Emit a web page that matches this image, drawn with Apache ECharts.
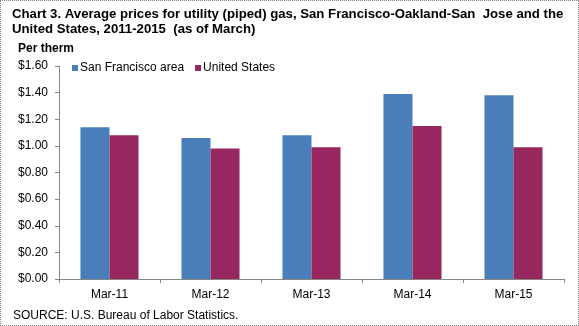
<!DOCTYPE html>
<html>
<head>
<meta charset="utf-8">
<script src="https://cdn.jsdelivr.net/npm/echarts@6/dist/echarts.min.js"></script>
<style>
  html, body { margin: 0; padding: 0; background: #fff; }
  #wrap { width: 579px; height: 326px; position: relative; }
  #chart { width: 579px; height: 326px; }
  #frame { position: absolute; left: 0; top: 0; width: 577px; height: 324px; border: 1px dotted #808080; pointer-events: none; }
</style>
</head>
<body>
<div id="wrap"><div id="chart"></div><div id="frame"></div></div>
<script>
// Average price per therm of utility (piped) gas, March of each year
const categories = ['Mar-11', 'Mar-12', 'Mar-13', 'Mar-14', 'Mar-15'];
const sanFrancisco = [1.14, 1.06, 1.08, 1.39, 1.38];
const unitedStates = [1.08, 0.98, 0.99, 1.15, 0.99];
const seriesNames = ['San Francisco area', 'United States'];

const FONT = '"Liberation Sans", Arial, sans-serif';
const chart = echarts.init(document.getElementById('chart'), null, { renderer: 'canvas' });

chart.setOption({
  animation: false,
  textStyle: { fontFamily: FONT },
  title: [
    {
      text: 'Chart 3. Average prices for utility (piped) gas, San Francisco-Oakland-San  Jose and the\nUnited States, 2011-2015  (as of March)',
      left: 12, top: 7, padding: 0,
      textStyle: { fontFamily: FONT, fontSize: 13.2, fontWeight: 'bold', color: '#000', lineHeight: 15 }
    },
    {
      text: 'Per therm',
      left: 18, top: 43, padding: 0,
      textStyle: { fontFamily: FONT, fontSize: 12, fontWeight: 'bold', color: '#000' }
    },
    {
      text: 'SOURCE: U.S. Bureau of Labor Statistics.',
      left: 13, top: 310, padding: 0,
      textStyle: { fontFamily: FONT, fontSize: 12, fontWeight: 'normal', color: '#000' }
    }
  ],
  legend: {
    data: seriesNames,
    left: 72, top: 62, padding: 0,
    icon: 'rect', itemWidth: 6, itemHeight: 6, itemGap: 11,
    textStyle: { fontFamily: FONT, fontSize: 12, color: '#000', padding: [0, 0, 0, -3] }
  },
  grid: { left: 59, right: 15, top: 66, bottom: 47, containLabel: false },
  xAxis: {
    type: 'category',
    data: categories,
    axisLine: { lineStyle: { color: '#868686', width: 1 } },
    axisTick: { show: true, alignWithLabel: false, length: 4, lineStyle: { color: '#868686' } },
    axisLabel: { fontFamily: FONT, fontSize: 12, color: '#000', margin: 10 }
  },
  yAxis: {
    type: 'value',
    min: 0, max: 1.6, interval: 0.2,
    axisLine: { show: true, lineStyle: { color: '#868686', width: 1 } },
    axisTick: { show: true, length: 4, lineStyle: { color: '#868686' } },
    splitLine: { show: false },
    axisLabel: {
      fontFamily: FONT, fontSize: 12, color: '#000', margin: 11,
      formatter: v => '$' + v.toFixed(2)
    }
  },
  series: [
    {
      name: seriesNames[0], type: 'bar', data: sanFrancisco,
      barGap: '0%', barCategoryGap: '42.5%',
      itemStyle: { color: '#4a7ebb' }
    },
    {
      name: seriesNames[1], type: 'bar', data: unitedStates,
      itemStyle: { color: '#96285f' }
    }
  ]
});
</script>
</body>
</html>
